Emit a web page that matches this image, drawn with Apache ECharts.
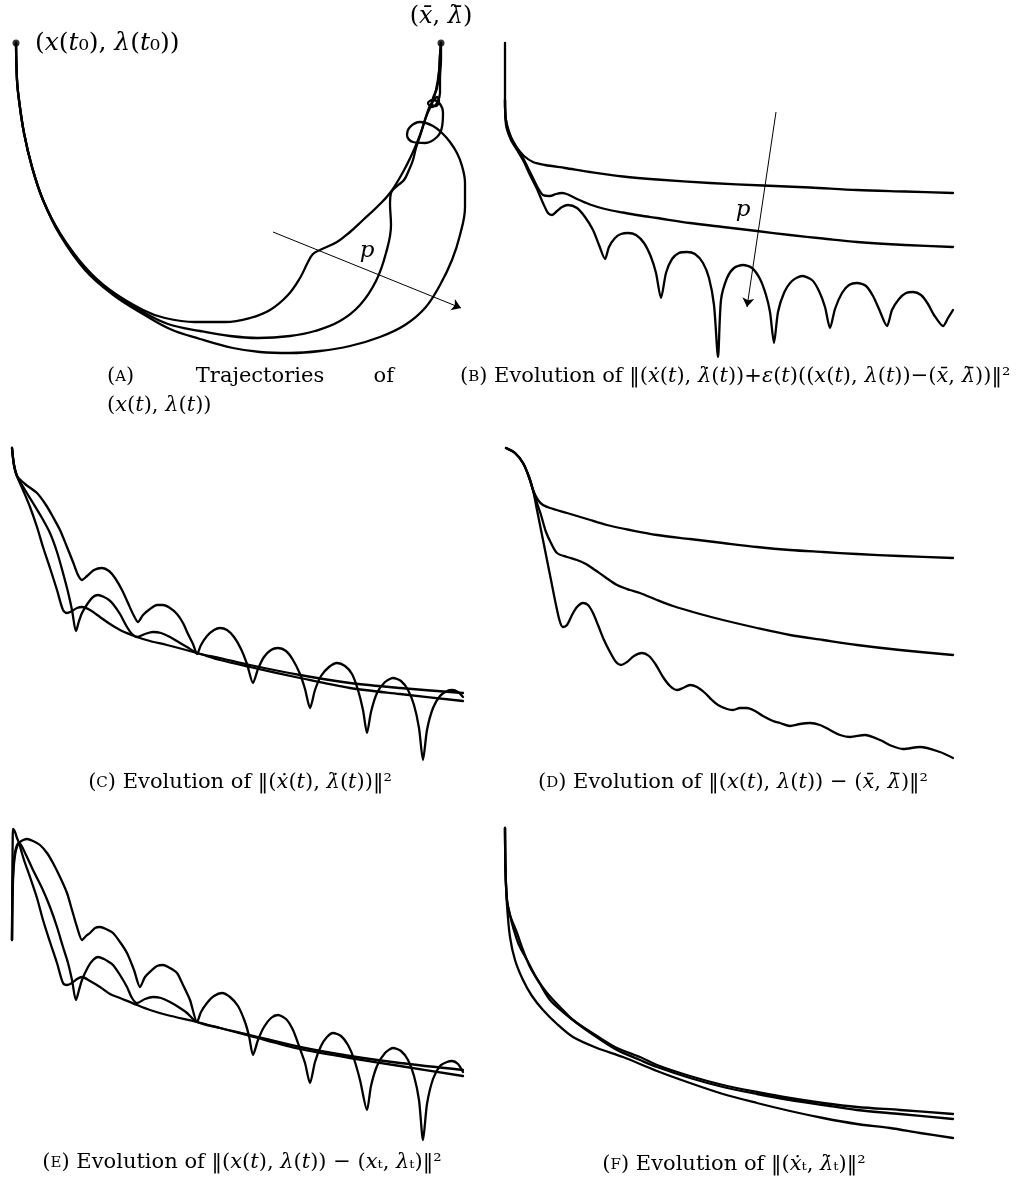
<!DOCTYPE html>
<html>
<head>
<meta charset="utf-8">
<script src="https://cdn.jsdelivr.net/npm/echarts@6/dist/echarts.min.js"></script>
<style>
html, body { margin: 0; padding: 0; background: #fff; }
#chart { width: 1016px; height: 1182px; }
</style>
</head>
<body>
<div id="chart"></div>
<script>
// values, in each panel's own (x, y) units

// (A) trajectories
var trajA1 = [[16,43],[17,80],[19,100],[24,133],[32,167],[43,200],[60,233],[85,267],[110,290],[143,310],[165,318],[195,322],[225,322],[250,318],[270,310],[288,295],[300,278],[308,262],[313,254],[320,250],[337,242],[350,232],[363,220],[377,207],[390,193],[403,172],[413,152],[420,135],[426,117],[432,103],[436,90],[439,72],[440,55],[441,43]];
var trajA2 = [[16,43],[17,80],[19,100],[24,133],[32,167],[43,200],[60,234],[85,268],[111,292],[143,312],[168,324],[200,331],[230,336],[258,338],[290,336],[315,331],[340,321],[360,305],[376,281],[386,253],[391,225],[390,203],[391,193],[397,186],[404,180],[409,170],[413,160],[416,148],[420,136],[425,120],[429,108],[433,101],[437,97],[439,101],[436,106],[432,104],[433,98],[437,88],[439,72],[440,55],[441,43]];
var trajA3 = [[16,43],[17,80],[19,100],[24,133],[32,167],[43,200],[60,235],[85,270],[112,294],[143,314],[170,329],[200,339],[233,348],[260,352],[290,353],[320,351],[350,346],[380,337],[405,325],[425,308],[440,285],[452,260],[460,235],[465,207],[465,183],[462,166],[457,153],[450,142],[443,134],[433,126],[420,122],[410,127],[407,135],[413,142],[425,143],[437,137],[442,127],[443,113],[440,104],[433,100],[428,103],[432,107],[437,103],[440,93],[440,78],[441,60],[441,43]];
var pointsA = [[16,43],[441,43]];
var arrowA = [[273,232],[461,308]];

// (B) residual norm
var curveB1 = [[505,43],[505,80],[505,107],[507,127],[512,140],[517,148],[524,156],[533,162],[545,165],[565,168],[590,172],[623,176.5],[657,179.5],[710,183],[763,185.5],[810,187.5],[857,190],[905,191.5],[953,193]];
var curveB2 = [[505,100],[506,120],[511,137],[517,148],[523,158],[528,168],[533,178],[538,188],[543,195],[550,196],[556,194],[562,193],[568,194.5],[577,199],[590,204.5],[605,209],[623,212.5],[640,215.5],[657,218],[690,223],[723,227],[757,231],[790,235],[823,238.5],[857,242],[905,245],[953,247]];
var curveB3 = [[505,100],[506,125],[511,140],[517,150],[523,160],[530,175],[537,189],[543,203],[548,213],[552,215],[557,211],[562,207],[568,205],[577,208],[585,217],[593,230],[599,245],[605,259],[609,247],[615,238],[621,234],[628,233],[636,235],[644,243],[651,257],[656,273],[661,298],[666,273],[672,259],[679,253],[687,252],[695,254],[703,263],[709,278],[714,305],[718,357],[721,300],[727,278],[734,268],[743,265],[752,268],[760,279],[766,295],[770,312],[774,343],[778,312],[784,293],[792,281],[802,276],[812,280],[819,291],[825,307],[830,328],[835,309],[842,293],[849,285],[857,283],[866,286],[873,296],[879,309],[887,326],[892,310],[899,299],[906,293],[913,292],[921,295],[928,304],[934,315],[943,326],[948,318],[953,310]];
var arrowB = [[776,112],[747,307]];

// (C) velocity norm
var curveC1 = [[12,448],[14,465],[17,476],[25,484],[37,493],[46,505],[53,517],[60,530],[67,547],[73,562],[78,575],[82,580],[87,576],[94,570],[102,568],[109,571],[115,578],[122,590],[128,603],[133,614],[138,622],[143,615],[150,609],[157,605],[163,605],[170,608],[177,614],[183,623],[188,634],[193,644],[197,654],[201,645],[207,636],[214,630],[220,628],[227,630],[234,637],[241,649],[247,664],[253,683],[258,669],[264,657],[271,650],[278,648],[286,651],[293,660],[300,674],[305,689],[310,708],[315,690],[321,676],[329,667],[337,663],[345,666],[352,674],[358,690],[363,710],[367,733],[371,712],[377,693],[385,682],[393,678],[401,681],[408,690],[414,705],[419,728],[423,760],[427,730],[433,708],[440,696],[447,691],[452,690],[458,692],[463,697]];
var curveC2 = [[12,448],[14,465],[17,476],[25,490],[33,503],[42,518],[50,533],[57,552],[63,573],[68,592],[72,610],[76,631],[79,621],[82,613],[88,603],[93,597],[98,595],[104,597],[109,600],[113,604],[120,614],[127,627],[132,634],[137,637],[145,634],[153,632],[161,633],[170,637],[180,643],[187,647],[197,653],[220,658],[250,665],[300,675],[350,683],[400,688],[463,693]];
var curveC3 = [[12,448],[14,465],[17,476],[23,490],[30,507],[37,527],[43,547],[50,568],[57,590],[63,610],[67,613],[72,611],[77,608],[82,607],[90,610],[100,617],[110,624],[120,630],[137,637],[150,641],[167,645],[197,653],[220,660],[250,667],[300,678],[350,688],[400,694],[463,701]];

// (D) distance to the solution
var curveD1 = [[506,448],[515,453],[523,463],[529,477],[533,490],[538,500],[543,505],[550,508],[567,513],[587,519],[607,525],[630,530],[657,535],[690,539],[723,543],[757,547],[790,550],[823,552],[857,554],[900,556],[953,558]];
var curveD2 = [[506,448],[515,453],[523,463],[529,477],[533,490],[537,503],[541,515],[546,532],[551,543],[557,553],[567,557],[577,560],[586,564],[595,570],[605,577],[617,585],[630,590],[640,593],[657,600],[673,606],[700,614],[723,620],[757,628],[790,635],[823,640],[857,645],[900,650],[953,655]];
var curveD3 = [[506,448],[515,453],[523,463],[529,477],[533,490],[537,510],[541,530],[546,555],[551,580],[556,605],[560,622],[563,627],[567,625],[572,615],[577,607],[583,603],[588,605],[593,613],[598,625],[604,640],[610,652],[616,662],[621,665],[627,662],[634,656],[642,653],[649,656],[656,665],[663,677],[670,686],[677,690],[683,688],[690,685],[697,687],[705,693],[712,700],[718,705],[727,709],[733,710],[740,708],[747,708],[755,711],[763,716],[773,721],[780,723],[790,726],[800,724],[810,723],[820,725],[830,730],[840,735],[850,737],[865,735],[880,740],[892,746],[903,749],[920,747],[940,752],[953,758]];

// (E) distance to the Tikhonov path
var curveE1 = [[12,940],[12.5,900],[13.5,870],[16,850],[20,842],[27,839],[33,841],[40,845],[47,853],[53,863],[60,877],[67,893],[72,910],[77,927],[82,940],[86,936],[90,933],[95,928],[100,927],[106,929],[113,933],[120,942],[127,953],[134,970],[140,987],[145,977],[152,970],[157,966],[163,965],[170,968],[177,973],[183,985],[190,1000],[197,1022],[201,1012],[207,1003],[214,996],[222,993],[230,997],[238,1006],[245,1022],[249,1036],[253,1055],[258,1040],[264,1027],[271,1018],[278,1015],[286,1019],[293,1030],[299,1046],[305,1063],[310,1083],[315,1062],[321,1046],[327,1037],[333,1033],[341,1036],[348,1045],[354,1059],[360,1080],[367,1110],[371,1086],[377,1066],[385,1053],[393,1048],[401,1051],[408,1060],[414,1076],[419,1100],[423,1140],[427,1104],[433,1079],[440,1066],[447,1062],[452,1061],[458,1064],[463,1072]];
var curveE2 = [[12,940],[12.5,890],[14,860],[16,848],[19,843],[26,855],[33,870],[42,888],[50,907],[57,927],[63,947],[68,963],[72,980],[76,1000],[79,990],[82,980],[88,967],[93,960],[98,957],[104,959],[109,962],[113,965],[120,975],[127,987],[132,998],[137,1003],[145,999],[153,997],[161,998],[170,1002],[180,1008],[187,1013],[197,1022],[220,1028],[250,1035],[300,1047],[350,1056],[400,1063],[463,1070]];
var curveE3 = [[12,940],[12.3,880],[12.7,840],[13,829],[15,832],[17,838],[19,843],[24,860],[30,877],[37,898],[43,920],[50,942],[57,963],[63,983],[67,985],[72,983],[77,979],[82,977],[90,981],[100,987],[110,994],[120,998],[137,1005],[150,1010],[167,1015],[197,1022],[220,1028],[250,1036],[300,1049],[350,1058],[400,1066],[463,1076]];

// (F) Tikhonov path velocity
var curveF1 = [[505,828],[505.5,870],[507,905],[510,937],[515,960],[523,980],[532,996],[543,1010],[557,1024],[573,1037],[597,1048],[623,1057],[657,1071],[690,1083],[723,1094],[757,1103],[790,1111],[823,1118],[857,1124],[890,1128],[920,1133],[953,1138]];
var curveF2 = [[505,828],[505.5,870],[507,900],[510,915],[513,927],[519,945],[527,960],[536,977],[547,993],[560,1007],[573,1020],[595,1036],[617,1050],[640,1060],[657,1067],[690,1078],[723,1087],[757,1094],[790,1100],[823,1105],[857,1110],[900,1114],[953,1119]];
var curveF3 = [[505,828],[505.5,870],[507,900],[510,915],[517,933],[523,950],[530,967],[540,984],[550,1000],[563,1012],[577,1023],[597,1036],[617,1048],[640,1057],[657,1065],[690,1076],[723,1085],[757,1092],[790,1098],[823,1103],[857,1107],[900,1110],[953,1114]];

// panel extents (axis ranges)
var panels = [
  { x: [5, 475], y: [30, 362] },
  { x: [495, 965], y: [30, 362] },
  { x: [5, 475], y: [440, 772] },
  { x: [495, 965], y: [440, 772] },
  { x: [5, 475], y: [820, 1152] },
  { x: [495, 965], y: [820, 1152] }
];

var FONT = '"DejaVu Serif", "Liberation Serif", serif';

var myChart = echarts.init(document.getElementById('chart'), null, { renderer: 'canvas' });

var grids = [], xAxes = [], yAxes = [];
panels.forEach(function(p, i) {
  grids.push({ left: p.x[0], top: p.y[0], width: p.x[1] - p.x[0], height: p.y[1] - p.y[0] });
  xAxes.push({ type: 'value', gridIndex: i, min: p.x[0], max: p.x[1], show: false });
  yAxes.push({ type: 'value', gridIndex: i, min: p.y[0], max: p.y[1], inverse: true, show: false });
});

function curve(data, gi, smooth) {
  return {
    type: 'line',
    xAxisIndex: gi,
    yAxisIndex: gi,
    data: data,
    symbol: 'none',
    smooth: smooth || 0.3,
    clip: false,
    silent: true,
    lineStyle: { color: '#000', width: 2.3, cap: 'round', join: 'round' }
  };
}

function arrow(pts, gi) {
  return {
    type: 'lines',
    coordinateSystem: 'cartesian2d',
    xAxisIndex: gi,
    yAxisIndex: gi,
    symbol: ['none', 'arrow'],
    symbolSize: 9,
    silent: true,
    lineStyle: { color: '#000', width: 1, opacity: 1 },
    data: [{ coords: pts }]
  };
}

function rich(size) {
  return {
    i: { fontStyle: 'italic', fontSize: size, fontFamily: FONT, fill: '#000' },
    s: { fontSize: Math.round(size * 0.72), fontFamily: FONT, fill: '#000' }
  };
}

function label(text, x, y, size, align) {
  return {
    type: 'text',
    x: x,
    y: y,
    silent: true,
    style: {
      text: text,
      fontSize: size,
      fontFamily: FONT,
      fill: '#000',
      align: align || 'left',
      verticalAlign: 'middle',
      rich: rich(size)
    }
  };
}

var CAP = 21;
var graphics = [
  label('({i|x}({i|t}₀), {i|λ}({i|t}₀))', 35, 43, 25),
  label('({i|x̄}, {i|λ̄})', 441, 17, 24, 'center'),
  label('{i|p}', 367, 251, 23, 'center'),
  label('{i|p}', 743, 210, 23, 'center'),
  label('({s|A})', 107, 377, CAP),
  label('Trajectories', 260, 377, CAP, 'center'),
  label('of', 394, 377, CAP, 'right'),
  label('({i|x}({i|t}), {i|λ}({i|t}))', 107, 406, CAP),
  label('({s|B}) Evolution of ‖({i|ẋ}({i|t}), {i|λ̇}({i|t}))+{i|ε}({i|t})(({i|x}({i|t}), {i|λ}({i|t}))−({i|x̄}, {i|λ̄}))‖²', 460, 377, CAP),
  label('({s|C}) Evolution of ‖({i|ẋ}({i|t}), {i|λ̇}({i|t}))‖²', 240, 783, CAP, 'center'),
  label('({s|D}) Evolution of ‖({i|x}({i|t}), {i|λ}({i|t})) − ({i|x̄}, {i|λ̄})‖²', 733, 783, CAP, 'center'),
  label('({s|E}) Evolution of ‖({i|x}({i|t}), {i|λ}({i|t})) − ({i|x}ₜ, {i|λ}ₜ)‖²', 242, 1163, CAP, 'center'),
  label('({s|F}) Evolution of ‖({i|ẋ}ₜ, {i|λ̇}ₜ)‖²', 734, 1165, CAP, 'center')
];

var option = {
  animation: false,
  backgroundColor: '#fff',
  grid: grids,
  xAxis: xAxes,
  yAxis: yAxes,
  graphic: graphics,
  series: [
    curve(trajA1, 0, 0.4),
    curve(trajA2, 0, 0.4),
    curve(trajA3, 0, 0.4),
    {
      type: 'scatter',
      xAxisIndex: 0,
      yAxisIndex: 0,
      data: pointsA,
      symbolSize: 7,
      silent: true,
      itemStyle: { color: '#000' }
    },
    arrow(arrowA, 0),
    curve(curveB1, 1),
    curve(curveB2, 1),
    curve(curveB3, 1, 0.25),
    arrow(arrowB, 1),
    curve(curveC1, 2, 0.25),
    curve(curveC2, 2),
    curve(curveC3, 2),
    curve(curveD1, 3),
    curve(curveD2, 3),
    curve(curveD3, 3),
    curve(curveE1, 4, 0.25),
    curve(curveE2, 4),
    curve(curveE3, 4),
    curve(curveF1, 5),
    curve(curveF2, 5),
    curve(curveF3, 5)
  ]
};

myChart.setOption(option);
window.addEventListener('resize', myChart.resize);
</script>
</body>
</html>
